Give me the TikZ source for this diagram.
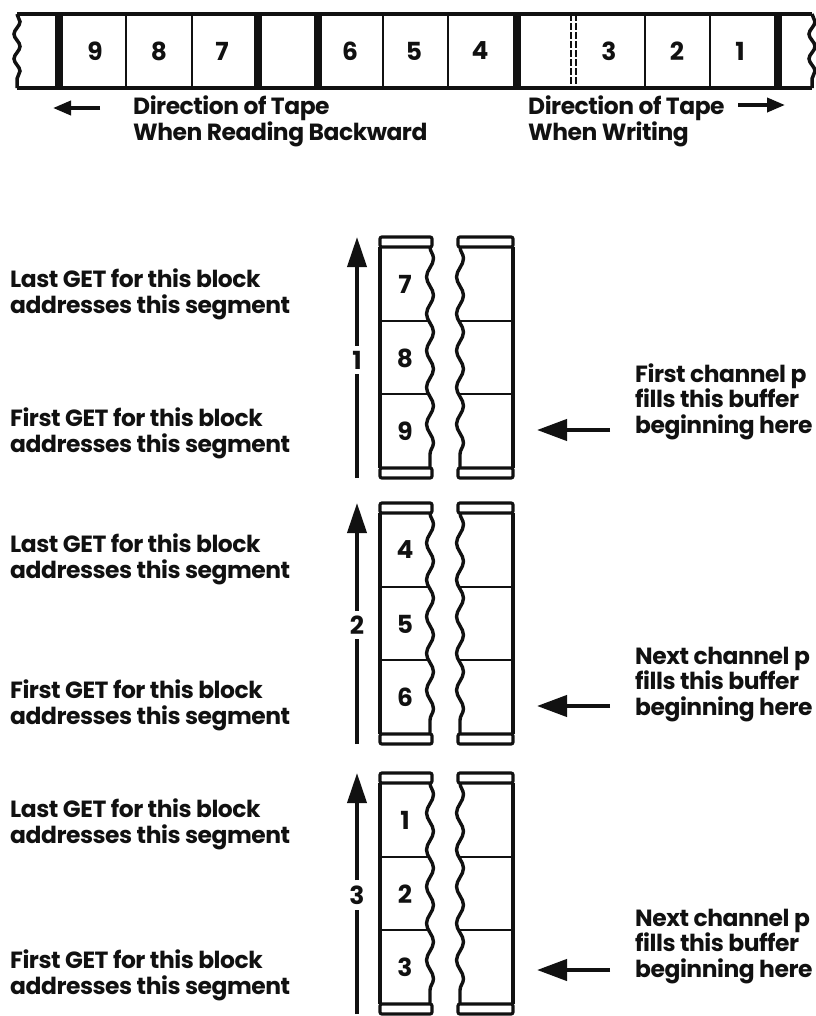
\documentclass[tikz,border=0pt]{standalone}
\usepackage{fontspec}
\setmainfont{Poppins}[LetterSpace=-2]
\usetikzlibrary{arrows.meta,decorations.pathmorphing}
\usepackage{xcolor}
\definecolor{ink}{HTML}{111111}
\tikzset{
  every node/.style={font=\fontsize{23.5}{25.5}\selectfont\bfseries,text=ink},
  txt/.style={align=left,inner sep=0pt,anchor=base west},
  cellnum/.style={inner sep=0pt,font=\fontsize{25}{25}\selectfont\bfseries},
  grouplbl/.style={inner sep=5bp,font=\fontsize{25}{25}\selectfont\bfseries},
  tapeline/.style={draw=ink,line width=3.8bp},
  tapeend/.style={draw=ink,line width=3.5bp,decorate,decoration={snake,segment length=24.7bp,amplitude=3bp}},
  gapbar/.style={draw=ink,line width=8bp},
  divider/.style={draw=ink,line width=2.4bp},
  bufedge/.style={draw=ink,line width=3.4bp},
  wavy/.style={bufedge,decorate,decoration={snake,segment length=36.83bp,amplitude=3.5bp}},
  bufcap/.style={draw=ink,line width=3.2bp,rounded corners=2bp},
  upline/.style={draw=ink,line width=3.8bp},
  uparrow/.style={upline,-{Triangle[length=30bp,width=19bp]}},
  sidearrow/.style={draw=ink,line width=4.2bp,-{Triangle[length=30bp,width=21bp]}},
  tinyarrow/.style={draw=ink,line width=3.8bp,-{Triangle[length=18bp,width=14bp]}},
}
\begin{document}
\begin{tikzpicture}[x=1bp,y=-1bp]
\useasboundingbox (0,0) rectangle (816,1016);

% tape
\draw[tapeline] (17,14) -- (812,14) (17,88) -- (812,88);
\draw[tapeend] (17,14) -- (17,88);
\draw[tapeend] (812,14) -- (812,88);
\draw[gapbar] (59,14) -- (59,88) (258,14) -- (258,88) (318,14) -- (318,88) (517,14) -- (517,88) (778,14) -- (778,88);
\draw[divider] (126,14) -- (126,88) (192,14) -- (192,88) (383,14) -- (383,88) (448,14) -- (448,88) (645,14) -- (645,88) (710,14) -- (710,88);
\draw[divider,dash pattern=on 7bp off 2bp] (571,14) -- (571,88) (576,14) -- (576,88);

\node[cellnum] (t9) at (95,51) {9};
\node[cellnum] (t8) at (159,51) {8};
\node[cellnum] (t7) at (222,51) {7};
\node[cellnum] (t6) at (350,51) {6};
\node[cellnum] (t5) at (414,51) {5};
\node[cellnum] (t4) at (480,51) {4};
\node[cellnum] (t3) at (609,51) {3};
\node[cellnum] (t2) at (677,51) {2};
\node[cellnum] (t1) at (740,51) {1};

\node[txt] (readlbl) at (133,140) {Direction of Tape\\When Reading Backward};
\coordinate (readtail) at (100,108);
\coordinate (readtip) at (53,108);
\draw[tinyarrow] (readtail) -- (readtip);

\node[txt] (writelbl) at (528,140) {Direction of Tape\\When Writing};
\coordinate (writetail) at (738,105);
\coordinate (writetip) at (785,105);
\draw[tinyarrow] (writetail) -- (writetip);

% buffers, block 1
\draw[bufcap] (380,237) rectangle (432,247) (380,468) rectangle (432,478);
\draw[bufcap] (458,237) rectangle (513,247) (458,468) rectangle (513,478);
\draw[divider] (380,321) -- (430,321) (380,394) -- (430,394) (460,321) -- (513,321) (460,394) -- (513,394);
\draw[bufedge] (380,247) -- (380,468);
\draw[wavy] (430,247) -- (430,468);
\draw[wavy] (460,247) -- (460,468);
\draw[bufedge] (513,247) -- (513,468);
\node[cellnum] (b7) at (405,284) {7};
\node[cellnum] (b8) at (405,358) {8};
\node[cellnum] (b9) at (405,431) {9};

\node[grouplbl] (g1) at (357,360) {1};
\coordinate (g1bot) at (357,478);
\coordinate (g1top) at (357,237);
\draw[upline] (g1bot) -- (g1);
\draw[uparrow] (g1) -- (g1top);

\node[txt] (last1) at (10,313) {Last GET for this block\\addresses this segment};
\node[txt] (first1) at (10,452) {First GET for this block\\addresses this segment};
\node[txt] (fill1) at (635,433) {First channel p\\fills this buffer\\beginning here};
\coordinate (fill1tail) at (610,430);
\coordinate (fill1tip) at (537,430);
\draw[sidearrow] (fill1tail) -- (fill1tip);

% buffers, block 2
\draw[bufcap] (380,503) rectangle (432,513) (380,734) rectangle (432,744);
\draw[bufcap] (458,503) rectangle (513,513) (458,734) rectangle (513,744);
\draw[divider] (380,587) -- (430,587) (380,660) -- (430,660) (460,587) -- (513,587) (460,660) -- (513,660);
\draw[bufedge] (380,513) -- (380,734);
\draw[wavy] (430,513) -- (430,734);
\draw[wavy] (460,513) -- (460,734);
\draw[bufedge] (513,513) -- (513,734);
\node[cellnum] (b4) at (405,550) {4};
\node[cellnum] (b5) at (405,624) {5};
\node[cellnum] (b6) at (405,697) {6};

\node[grouplbl] (g2) at (357,625) {2};
\coordinate (g2bot) at (357,744);
\coordinate (g2top) at (357,503);
\draw[upline] (g2bot) -- (g2);
\draw[uparrow] (g2) -- (g2top);

\node[txt] (last2) at (10,578) {Last GET for this block\\addresses this segment};
\node[txt] (first2) at (10,724) {First GET for this block\\addresses this segment};
\node[txt] (fill2) at (635,715) {Next channel p\\fills this buffer\\beginning here};
\coordinate (fill2tail) at (610,706);
\coordinate (fill2tip) at (537,706);
\draw[sidearrow] (fill2tail) -- (fill2tip);

% buffers, block 3
\draw[bufcap] (380,773) rectangle (432,783) (380,1004) rectangle (432,1014);
\draw[bufcap] (458,773) rectangle (513,783) (458,1004) rectangle (513,1014);
\draw[divider] (380,857) -- (430,857) (380,930) -- (430,930) (460,857) -- (513,857) (460,930) -- (513,930);
\draw[bufedge] (380,783) -- (380,1004);
\draw[wavy] (430,783) -- (430,1004);
\draw[wavy] (460,783) -- (460,1004);
\draw[bufedge] (513,783) -- (513,1004);
\node[cellnum] (b1) at (405,820) {1};
\node[cellnum] (b2) at (405,894) {2};
\node[cellnum] (b3) at (405,967) {3};

\node[grouplbl] (g3) at (357,895) {3};
\coordinate (g3bot) at (357,1014);
\coordinate (g3top) at (357,773);
\draw[upline] (g3bot) -- (g3);
\draw[uparrow] (g3) -- (g3top);

\node[txt] (last3) at (10,843) {Last GET for this block\\addresses this segment};
\node[txt] (first3) at (10,994) {First GET for this block\\addresses this segment};
\node[txt] (fill3) at (635,977) {Next channel p\\fills this buffer\\beginning here};
\coordinate (fill3tail) at (610,970);
\coordinate (fill3tip) at (537,970);
\draw[sidearrow] (fill3tail) -- (fill3tip);

\end{tikzpicture}
\end{document}
